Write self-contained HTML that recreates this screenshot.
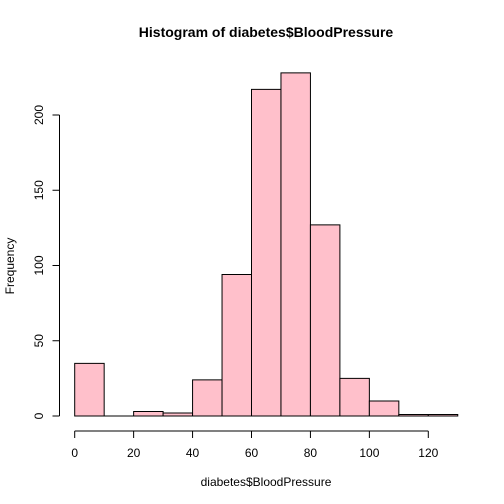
<!DOCTYPE html>
<html><head><meta charset="utf-8"><style>
body{margin:0;background:#fff}
svg{display:block;font-family:"Liberation Sans",Arial,sans-serif}
</style></head><body>
<svg id="chart" width="504" height="504" viewBox="0 0 504 504">
<text x="266" y="37" text-anchor="middle" font-weight="bold" font-size="14">Histogram of diabetes$BloodPressure</text>
<text x="266" y="486" text-anchor="middle" font-size="12">diabetes$BloodPressure</text>
<text transform="translate(14,266) rotate(-90)" text-anchor="middle" font-size="12">Frequency</text>
<g id="bars"></g>
<g id="xaxis"></g>
<g id="yaxis"></g>
</svg>
<script>
const breaks = [0,10,20,30,40,50,60,70,80,90,100,110,120,130];
const counts = [35,0,3,2,24,94,217,228,127,25,10,1,1];
const xTicks = [0,20,40,60,80,100,120];
const yTicks = [0,50,100,150,200];

const NS = "http://www.w3.org/2000/svg";
const xs = v => 74.7 + v * (428.3 - 74.7) / 120;
const ys = v => 416 - v * (416 - 115) / 200;
function mk(tag, attrs, parent){const e=document.createElementNS(NS,tag);for(const k in attrs)e.setAttribute(k,attrs[k]);parent.appendChild(e);return e;}

const gb = document.getElementById('bars');
counts.forEach((c,i)=>{
  const x0=xs(breaks[i]), x1=xs(breaks[i+1]), y0=ys(0), y1=ys(c);
  const r = mk('path',{d:`M${x0},${y0}L${x0},${y1}L${x1},${y1}L${x1},${y0}Z`,fill:'#ffc0cb',stroke:'#000','stroke-width':1},gb);
  
  
});

const gx = document.getElementById('xaxis');
mk('line',{x1:xs(xTicks[0]),x2:xs(xTicks[xTicks.length-1]),y1:431,y2:431,stroke:'#000'},gx);
xTicks.forEach(t=>{
  mk('line',{x1:xs(t),x2:xs(t),y1:431,y2:438,stroke:'#000'},gx);
  const tx = mk('text',{x:xs(t),y:457,'text-anchor':'middle','font-size':12},gx);
  tx.textContent=t;
  
  
});

const gy = document.getElementById('yaxis');
mk('line',{x1:59.5,x2:59.5,y1:ys(yTicks[0]),y2:ys(yTicks[yTicks.length-1]),stroke:'#000'},gy);
yTicks.forEach(t=>{
  mk('line',{x1:52.5,x2:59.5,y1:ys(t),y2:ys(t),stroke:'#000'},gy);
  const tx = mk('text',{transform:`translate(43,${ys(t)}) rotate(-90)`,'text-anchor':'middle','font-size':12},gy);
  tx.textContent=t;
  
  
});
</script>
</body></html>
